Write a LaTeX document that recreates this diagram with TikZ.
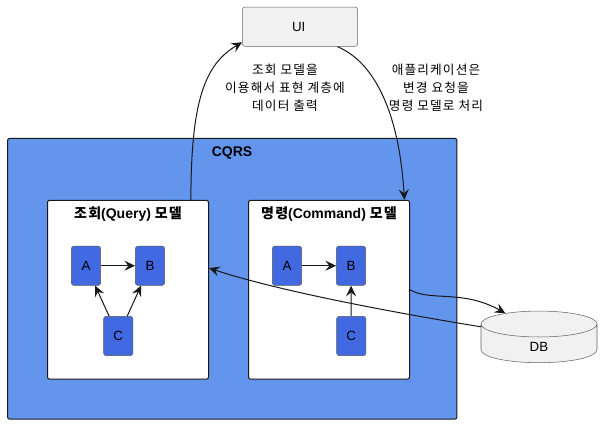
\documentclass[tikz,border=0pt]{standalone}
\usepackage{fontspec}
\setmainfont{Liberation Sans}
\newfontfamily\krfont[LetterSpace=9]{Noto Sans CJK KR}
\newcommand{\kr}[1]{{\krfont #1}}
\usetikzlibrary{positioning, arrows.meta, shapes.geometric}
\definecolor{cqrsblue}{HTML}{6495ED}
\definecolor{boxblue}{HTML}{4169E1}
\definecolor{plainfill}{HTML}{F1F1F1}
\definecolor{linedark}{HTML}{181818}

\begin{document}
\begin{tikzpicture}[
        x=0.75pt, y=-0.75pt,
        cluster/.style={draw=linedark, rectangle, rounded corners=1.5pt, line width=0.75pt},
        model/.style={cluster, fill=white, minimum width=120.75pt, minimum height=134pt},
        clstitle/.style={font=\bfseries\fontsize{10.5}{12}\selectfont},
        part/.style={draw=gray!70!black, fill=boxblue, rectangle, rounded corners=2pt, minimum width=22pt, minimum height=29.5pt, inner sep=0pt, font=\fontsize{10}{11}\selectfont},
        arrow/.style={-{Stealth[length=8pt, width=7.5pt, inset=3pt]}, line width=0.75pt, draw=linedark},
        note/.style={align=center, font=\fontsize{9.5}{13.5}\selectfont}
    ]
    \useasboundingbox (0,0) rectangle (613,424);

    % CQRS frame
    \node[cluster, fill=cqrsblue, minimum width=337pt, minimum height=210.5pt] (CQRS) at (232.25,278.75) {};
    \node[clstitle] (CQRSt) at (232,152.5) {CQRS};

    % Models
    \node[model] (QM) at (128,289.75) {};
    \node[model] (CM) at (329,289.75) {};
    \node[clstitle] (QMt) at (128,214.5) {\kr{조회}(Query) \kr{모델}};
    \node[clstitle] (CMt) at (329,214.5) {\kr{명령}(Command) \kr{모델}};

    % Outer boxes
    \node[draw=gray!80!black, fill=plainfill, rectangle, rounded corners=2pt, minimum width=86.5pt, minimum height=29.5pt, font=\fontsize{10}{11}\selectfont] (UI) at (300,26.75) {\hspace*{-2pt}UI};
    \node[cylinder, shape border rotate=90, aspect=1.4, draw=gray!80!black, fill=plainfill, cylinder uses custom fill, cylinder body fill=plainfill, cylinder end fill=plainfill, minimum width=87pt, minimum height=38.75pt, inner sep=0pt, font=\fontsize{10}{11}\selectfont] (DB) at (539,343.5) {\smash{\raisebox{-6pt}{DB}}};

    % Query parts
    \node[part] (QA) at (86,265.75) {A};
    \node[part] (QB) at (150,265.75) {B};
    \node[part] (QC) at (118.25,336) {C};
    % Command parts
    \node[part] (CA) at (287,265.75) {A};
    \node[part] (CB) at (351,265.75) {B};
    \node[part] (CC) at (351.25,336) {C};

    % Arrows between parts
    \draw[arrow] (QA) -- (QB);
    \draw[arrow] (QC) -- (QA);
    \draw[arrow] (QC) -- (QB);
    \draw[arrow] (CA) -- (CB);
    \draw[arrow] (CC) -- (CB);

    % Arrows around the models
    \draw[arrow] (QM.55.2) .. controls +(0,-100) and +(-37,22) .. (UI.195.8);
    \draw[arrow] (UI.332) .. controls +(38,16) and +(-5,-85) .. (CM.50.7);
    \draw[arrow] (CM.east) .. controls +(20,12) and +(-43,-24) .. (DB.138.8);
    \draw[arrow] (DB.164) .. controls +(-110,-18) and +(60,20) .. (QM.15.8);

    % Notes
    \node[note] (N1) at (285,88) {\kr{조회 모델을}\\\kr{이용해서 표현 계층에}\\\kr{데이터 출력}};
    \node[note] (N2) at (436,88) {\kr{애플리케이션은}\\\kr{변경 요청을}\\\kr{명령 모델로 처리}};
\end{tikzpicture}
\end{document}
